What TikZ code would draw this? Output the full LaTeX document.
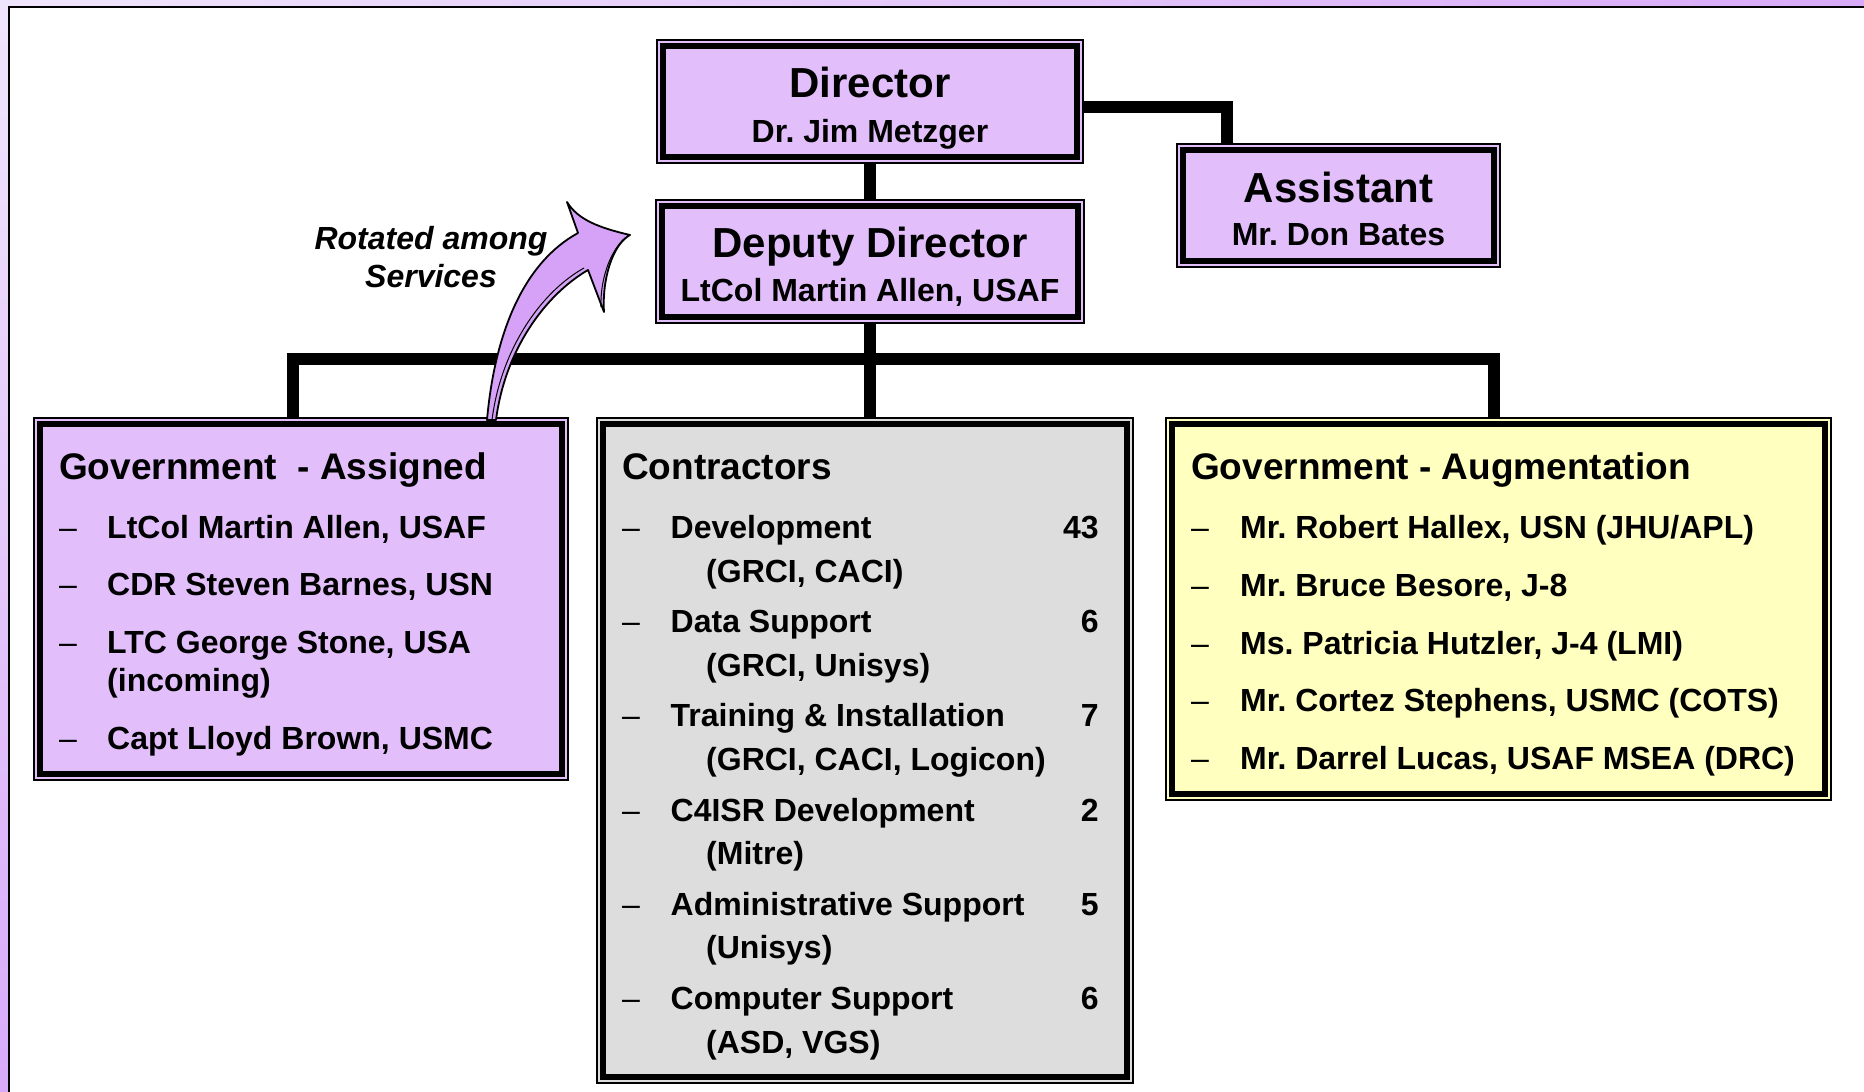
\documentclass[tikz,border=0pt]{standalone}
\usepackage{fontspec}
\setmainfont{Liberation Sans}
\usepackage{xcolor}
\usepackage{tikz}
\usetikzlibrary{calc,shadings}

\definecolor{lilac}{HTML}{E2BFFB}
\definecolor{lilacdark}{HTML}{D6A2F8}
\definecolor{greybox}{HTML}{DDDDDD}
\definecolor{yellowbox}{HTML}{FFFFC0}
\definecolor{bglight}{HTML}{F0E6FC}
\definecolor{bgdark}{HTML}{D8AAF9}

\newcommand{\lidash}{{\mdseries\textendash}}
\frenchspacing

\begin{document}
\begin{tikzpicture}[x=1pt, y=-1pt, every node/.style={font=\bfseries},
    orgbox/.style={draw=black, line width=1.2pt, fill=#1, inner sep=0pt, outer sep=0pt},
    innerframe/.style={draw=black, line width=6.5pt},
    wire/.style={draw=black, line width=12.5pt, line join=miter},
    headline/.style={anchor=base, font=\fontsize{42}{45}\selectfont\bfseries},
    nameline/.style={anchor=base, font=\fontsize{32}{38}\selectfont\bfseries},
    listtext/.style={anchor=base west, inner sep=0pt, font=\fontsize{32}{38}\selectfont\bfseries}]
    \useasboundingbox (0,0) rectangle (1864,1092);

    % Slide background
    \shade[upper left=bglight, upper right=bgdark, lower left=bgdark, lower right=bgdark] (0,0) rectangle (1864,1092);
    \draw[line width=2pt, fill=white] (9,7) rectangle (1900,1120);

    % Top boxes
    \node[orgbox=lilac, minimum width=426pt, minimum height=123pt] (dir) at (870,101.5) {};
    \node[orgbox=lilac, minimum width=428pt, minimum height=123pt] (dep) at (870,261.5) {};
    \node[orgbox=lilac, minimum width=323pt, minimum height=123pt] (asst) at (1338.5,205.5) {};

    % Staff boxes
    \node[orgbox=lilac, minimum width=534pt, minimum height=362pt] (gov) at (301,599) {};
    \node[orgbox=greybox, minimum width=536pt, minimum height=665pt] (con) at (865,750.5) {};
    \node[orgbox=yellowbox, minimum width=665pt, minimum height=382pt] (aug) at (1498.5,609) {};

    % Inner frames
    \foreach \b in {dir,dep,asst,gov,con,aug}
        \draw[innerframe] ([shift={(6,6)}]\b.north west) rectangle ([shift={(-6,-6)}]\b.south east);

    % Connectors
    \coordinate (asstjoin) at (1227,144);
    \coordinate (govjoin) at (293,418);
    \coordinate (augjoin) at (1494,418);
    \coordinate (bus) at (870,359);
    \draw[wire] (dir) -- (dep);
    \draw[wire] ([yshift=-5.5pt]dir.east) -| (asstjoin);
    \draw[wire] (govjoin) |- (bus) -| (augjoin);
    \draw[wire] (dep.south) -- (dep.south |- con.north);

    % Rotation arrow
    \draw[fill=lilacdark, line width=1.8pt, line join=round] (487,420) .. controls (495,330) and (525,262) .. (578,233)
        -- (567,202) .. controls (578,220) and (600,228) .. (630,235)
        .. controls (612,245) and (602,280) .. (604,312)
        -- (588,270) .. controls (545,295) and (505,350) .. (496,420) -- cycle;
    \draw[line width=1pt] (625,238) .. controls (609,252) and (600,282) .. (601,307);
    \draw[line width=1pt] (584,268) .. controls (541,292) and (501,349) .. (492,420);
    \node[font=\fontsize{32}{38}\selectfont\bfseries\itshape, align=center] (rotnote) at (431,257) {Rotated among\\Services};

    % Box titles
    \node[headline] (dirtitle) at ($(dir.north)+(0,57.5)$) {Director};
    \node[nameline] (dirname) at ($(dir.north)+(0,102)$) {Dr. Jim Metzger};
    \node[headline] (deptitle) at ($(dep.north)+(0,57)$) {Deputy Director};
    \node[nameline] (depname) at ($(dep.north)+(0,101.5)$) {LtCol Martin Allen, USAF};
    \node[headline] (assttitle) at ($(asst.north)+(0,58)$) {Assistant};
    \node[nameline] (asstname) at ($(asst.north)+(0,101.5)$) {Mr. Don Bates};

    % Government - Assigned
    \node[listtext] (govlist) at (59,479) {\begin{tabular}[t]{@{}p{48pt}@{}l@{}}
        \multicolumn{2}{@{}l@{}}{\fontsize{37}{38}\selectfont Government\ \ - Assigned}\\[21.5pt]
        \lidash & LtCol Martin Allen, USAF\\[19pt]
        \lidash & CDR Steven Barnes, USN\\[20pt]
        \lidash & LTC George Stone, USA\\
                & (incoming)\\[20pt]
        \lidash & Capt Lloyd Brown, USMC
    \end{tabular}};

    % Contractors
    \node[listtext, font=\fontsize{32}{43.5}\selectfont\bfseries] (conlist) at (622,479) {\begin{tabular}[t]{@{}p{48.5pt}@{}p{428pt}@{}}
        \multicolumn{2}{@{}l@{}}{\fontsize{37}{43.5}\selectfont Contractors}\\[16pt]
        \lidash & Development\hfill 43\\
                & \hspace*{35.5pt}(GRCI, CACI)\\[7.2pt]
        \lidash & Data Support\hfill 6\\
                & \hspace*{35.5pt}(GRCI, Unisys)\\[7.2pt]
        \lidash & Training \& Installation\hfill 7\\
                & \hspace*{35.5pt}(GRCI, CACI, Logicon)\\[7.2pt]
        \lidash & C4ISR Development\hfill 2\\
                & \hspace*{35.5pt}(Mitre)\\[7.2pt]
        \lidash & Administrative Support\hfill 5\\
                & \hspace*{35.5pt}(Unisys)\\[7.2pt]
        \lidash & Computer Support\hfill 6\\
                & \hspace*{35.5pt}(ASD, VGS)
    \end{tabular}};

    % Government - Augmentation
    \node[listtext] (auglist) at (1191,479) {\begin{tabular}[t]{@{}p{49pt}@{}l@{}}
        \multicolumn{2}{@{}l@{}}{\fontsize{37}{38}\selectfont Government - Augmentation}\\[21.5pt]
        \lidash & Mr. Robert Hallex, USN (JHU/APL)\\[19.75pt]
        \lidash & Mr. Bruce Besore, J-8\\[19.75pt]
        \lidash & Ms. Patricia Hutzler, J-4 (LMI)\\[19.75pt]
        \lidash & Mr. Cortez Stephens, USMC (COTS)\\[19.75pt]
        \lidash & Mr. Darrel Lucas, USAF MSEA (DRC)
    \end{tabular}};
\end{tikzpicture}
\end{document}
